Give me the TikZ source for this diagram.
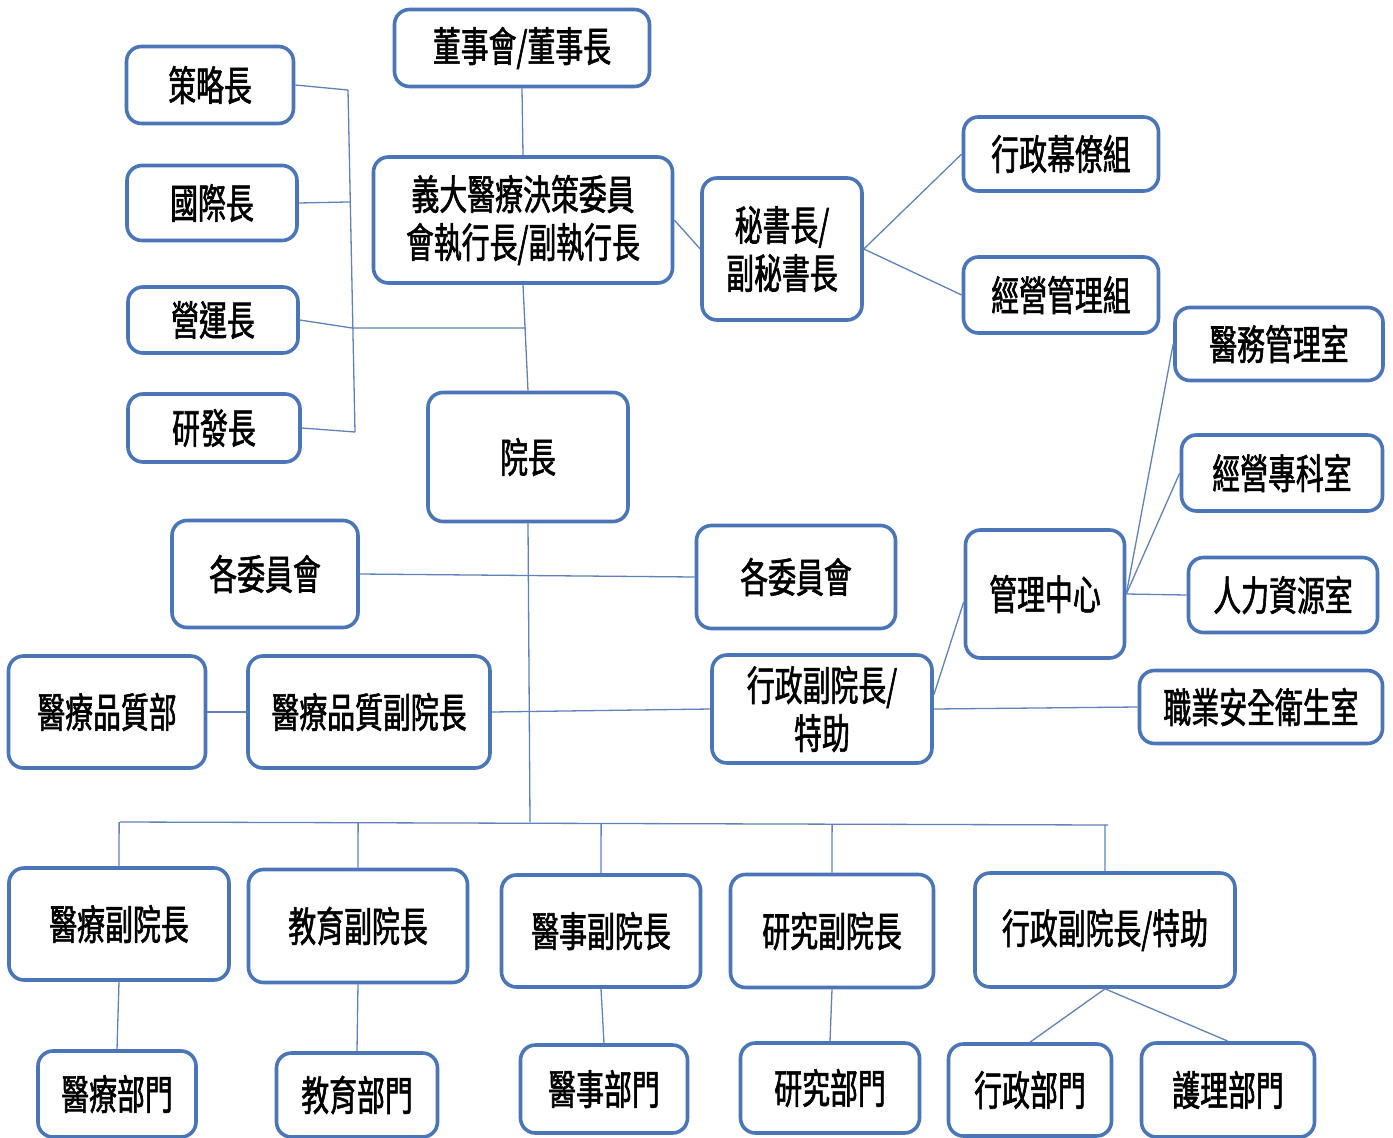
\documentclass[tikz,border=0pt]{standalone}
\usepackage{fontspec}
\setmainfont{Noto Sans CJK TC}[FakeStretch=0.68,FakeBold=1.4]
\usetikzlibrary{calc}
\definecolor{boxblue}{RGB}{74,118,184}
\definecolor{lineblue}{RGB}{96,130,188}
\tikzset{
  box/.style={draw=boxblue, line width=3.6pt, rounded corners=15pt, fill=white,
    align=center, inner sep=0pt, font=\fontsize{41}{48}\selectfont},
  conn/.style={draw=lineblue, line width=1.3pt},
}
\begin{document}
\begin{tikzpicture}[x=1pt,y=-1pt]
\useasboundingbox[fill=white] (0,0) rectangle (1393,1138);
% top area
\node[box, minimum width=255, minimum height=77] (dong) at (522,48) {董事會/董事長};
\node[box, minimum width=167, minimum height=77] (celue) at (210,85) {策略長};
\node[box, minimum width=170, minimum height=75] (guoji) at (212,203) {國際長};
\node[box, minimum width=170, minimum height=66] (yingyun) at (213,320) {營運長};
\node[box, minimum width=172, minimum height=68] (yanfa) at (214,428) {研發長};
\node[box, minimum width=299, minimum height=126] (ceo) at (523,220) {義大醫療決策委員\\會執行長/副執行長};
\node[box, minimum width=160, minimum height=142] (mishu) at (782,249) {秘書長/\\副秘書長};
\node[box, minimum width=195, minimum height=74] (muliao) at (1061,154) {行政幕僚組};
\node[box, minimum width=195, minimum height=76] (jingying) at (1061,295) {經營管理組};
% right side
\node[box, minimum width=208, minimum height=73] (yiwu) at (1279,344) {醫務管理室};
\node[box, minimum width=201, minimum height=76] (zhuanke) at (1282,473) {經營專科室};
\node[box, minimum width=159, minimum height=128] (mgmt) at (1045,594) {管理中心};
\node[box, minimum width=189, minimum height=75] (renli) at (1283,595) {人力資源室};
\node[box, minimum width=243, minimum height=73] (zhiye) at (1261,707) {職業安全衛生室};
% middle
\node[box, minimum width=200, minimum height=129] (yz) at (528,457) {院長};
\node[box, minimum width=186, minimum height=107] (wyL) at (265,574) {各委員會};
\node[box, minimum width=199, minimum height=103] (wyR) at (796,577) {各委員會};
\node[box, minimum width=220, minimum height=108] (admid) at (822,709) {行政副院長/\\特助};
\node[box, minimum width=242, minimum height=112] (pzfy) at (369,712) {醫療品質副院長};
\node[box, minimum width=197, minimum height=112] (pzb) at (107,712) {醫療品質部};
% bottom vice presidents
\node[box, minimum width=220, minimum height=112] (v1) at (119,924) {醫療副院長};
\node[box, minimum width=219, minimum height=113] (v2) at (358,926) {教育副院長};
\node[box, minimum width=199, minimum height=112] (v3) at (601,931) {醫事副院長};
\node[box, minimum width=203, minimum height=113] (v4) at (832,931) {研究副院長};
\node[box, minimum width=260, minimum height=114] (v5) at (1105,930) {行政副院長/特助};
% departments
\node[box, minimum width=158, minimum height=86] (d1) at (117,1094) {醫療部門};
\node[box, minimum width=161, minimum height=84] (d2) at (357,1095) {教育部門};
\node[box, minimum width=167, minimum height=88] (d3) at (604,1089) {醫事部門};
\node[box, minimum width=179, minimum height=90] (d4) at (830,1088) {研究部門};
\node[box, minimum width=163, minimum height=92] (d5) at (1030,1090) {行政部門};
\node[box, minimum width=173, minimum height=94] (d6) at (1228,1090) {護理部門};

% connectors
\coordinate (b1) at (348,90);
\coordinate (b4) at (355,432);
\coordinate (bY) at (352,328);
\coordinate (mY) at (526,328);
\coordinate (busL) at (120,822);
\coordinate (busM) at (530,822);
\coordinate (busR) at (1108,825);
\draw[conn] (dong.south) -- (ceo.north);
\draw[conn] (ceo.south) -- (yz.north);
\draw[conn] (b1) -- (b4);
\draw[conn] (celue.east) -- (b1);
\draw[conn] (guoji.east) -- ($(b1)!(guoji.east)!(b4)$);
\draw[conn] (yingyun.east) -- (bY) -- (mY);
\draw[conn] (yanfa.east) -- (b4);
\draw[conn] (ceo.east) -- (mishu.west);
\draw[conn] (mishu.east) -- (muliao.west);
\draw[conn] (mishu.east) -- (jingying.west);
\draw[conn] (yz.south) -- (busM);
\draw[conn] (wyL.east) -- (wyR.west);
\draw[conn] (pzb.east) -- (pzfy.west);
\draw[conn] (pzfy.east) -- (admid.west);
\draw[conn] (admid.east) -- (zhiye.west);
\draw[conn] ($(admid.east)+(0,-14)$) -- ($(mgmt.west)+(0,8)$);
\draw[conn] (mgmt.east) -- (yiwu.west);
\draw[conn] (mgmt.east) -- (zhuanke.west);
\draw[conn] (mgmt.east) -- (renli.west);
\draw[conn] (busL) -- (busR);
\foreach \v in {v1,v2,v3,v4,v5}{
  \draw[conn] (\v.north) -- ($(busL)!(\v.north)!(busR)$);
}
\draw[conn] (v1.south) -- (d1.north);
\draw[conn] (v2.south) -- (d2.north);
\draw[conn] (v3.south) -- (d3.north);
\draw[conn] (v4.south) -- (d4.north);
\draw[conn] (v5.south) -- (d5.north);
\draw[conn] (v5.south) -- (d6.north);
\end{tikzpicture}
\end{document}
